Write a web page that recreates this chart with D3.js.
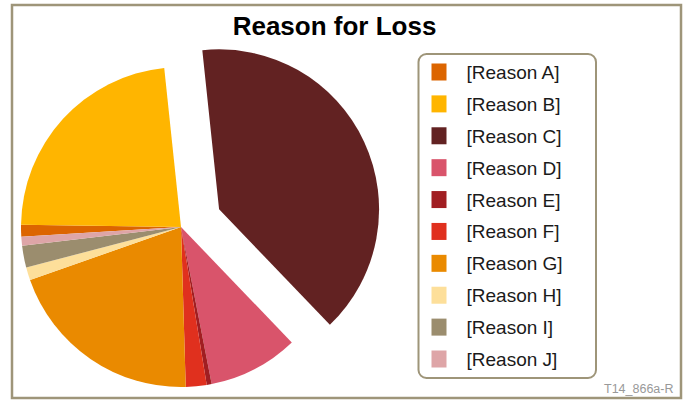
<!DOCTYPE html>
<html>
<head>
<meta charset="utf-8">
<script src="https://cdn.jsdelivr.net/npm/d3@7"></script>
<style>
  html, body { margin: 0; padding: 0; background: #ffffff; }
  svg { display: block; }
</style>
</head>
<body>
<svg id="chart" width="686" height="401"></svg>
<script>
// Share of losses by reason (percent)
const categories = ["[Reason A]", "[Reason B]", "[Reason C]", "[Reason D]", "[Reason E]",
                    "[Reason F]", "[Reason G]", "[Reason H]", "[Reason I]", "[Reason J]"];
const shares = [1.2, 23.1, 39.5, 9.1, 0.5, 2.1, 20.1, 1.3, 2.2, 0.9];
const colors = ["#dc6500", "#ffb500", "#622222", "#d9546b", "#a11e22",
                "#e0301e", "#ea8a00", "#fddf9a", "#9b8d6e", "#dea5a7"];
const explodedCategory = "[Reason C]";
const titleText = "Reason for Loss";
const footnote = "T14_866a-R";

const W = 686, H = 401;
const svg = d3.select("#chart");
const font = "'Liberation Sans', Arial, Helvetica, sans-serif";

// outer frame
svg.append("rect")
  .attr("x", 12).attr("y", 5)
  .attr("width", 669).attr("height", 393)
  .attr("fill", "#ffffff")
  .attr("stroke", "#9e9579")
  .attr("stroke-width", 2.5);

// title
svg.append("text")
  .attr("x", 334.5).attr("y", 34.5)
  .attr("text-anchor", "middle")
  .attr("font-family", font)
  .attr("font-weight", "bold")
  .attr("font-size", 26)
  .attr("fill", "#000")
  .text(titleText);

// pie
const cx = 181, cy = 227, radius = 160, explode = 42;
const start = 266.5 * Math.PI / 180;
const pie = d3.pie().sort(null).value(d => d.value)
  .startAngle(start).endAngle(start + 2 * Math.PI);
const arc = d3.arc().innerRadius(0).outerRadius(radius);
const color = d3.scaleOrdinal().domain(categories).range(colors);

const data = categories.map((c, i) => ({ name: c, value: shares[i] }));
const g = svg.append("g").attr("transform", `translate(${cx},${cy})`);

g.selectAll("path")
  .data(pie(data))
  .join("path")
  .attr("d", arc)
  .attr("fill", d => color(d.data.name))
  .attr("transform", d => {
    if (d.data.name !== explodedCategory) return null;
    const mid = (d.startAngle + d.endAngle) / 2;
    return `translate(${explode * Math.sin(mid)},${-explode * Math.cos(mid)})`;
  });

// legend
svg.append("rect")
  .attr("x", 418.5).attr("y", 54)
  .attr("width", 177.5).attr("height", 324)
  .attr("rx", 8).attr("ry", 8)
  .attr("fill", "#ffffff")
  .attr("stroke", "#9e9579")
  .attr("stroke-width", 2);

const rowY = d3.scalePoint().domain(categories).range([72, 359]);
const legend = svg.append("g");
const rows = legend.selectAll("g")
  .data(categories)
  .join("g")
  .attr("transform", d => `translate(0,${rowY(d)})`);

rows.append("rect")
  .attr("x", 431.5).attr("y", -8.5)
  .attr("width", 15).attr("height", 17)
  .attr("fill", d => color(d));

rows.append("text")
  .attr("x", 466.5).attr("y", 7)
  .attr("font-family", font)
  .attr("font-size", 19)
  .attr("fill", "#1a1a1a")
  .text(d => d);

// source tag
svg.append("text")
  .attr("x", 673.5).attr("y", 393)
  .attr("text-anchor", "end")
  .attr("font-family", font)
  .attr("font-size", 12.5)
  .attr("fill", "#999999")
  .text(footnote);
</script>
</body>
</html>
